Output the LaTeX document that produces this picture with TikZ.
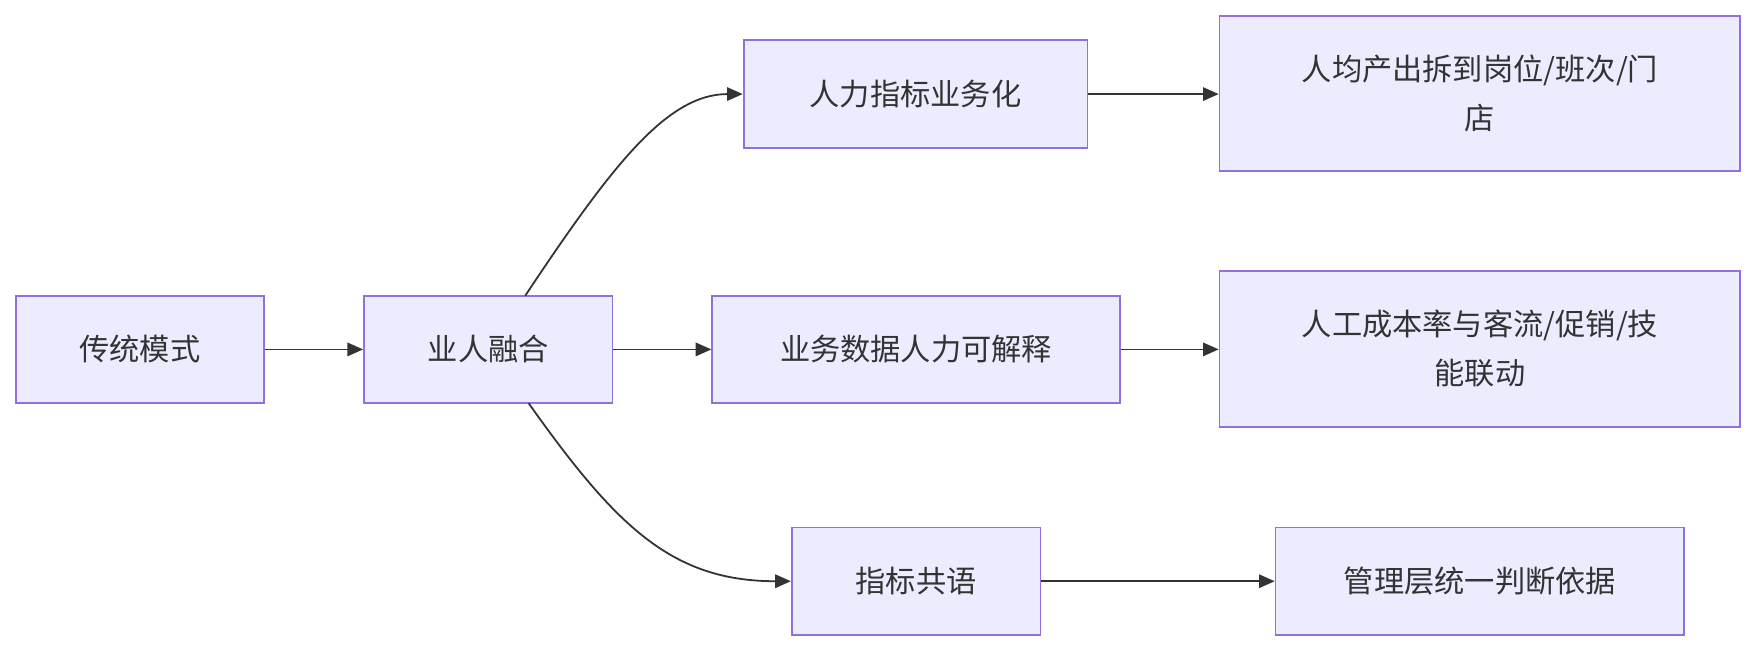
\documentclass[tikz,border=0pt]{standalone}
\usepackage{fontspec}
\setmainfont{Noto Sans CJK SC}
\usetikzlibrary{arrows.meta}
\definecolor{bfill}{HTML}{ECECFF}
\definecolor{bdraw}{HTML}{9370DB}
\definecolor{ln}{HTML}{333333}
\begin{document}
\begin{tikzpicture}[x=0.5pt,y=-0.5pt,
  box/.style={draw=bdraw,fill=bfill,line width=0.8pt,inner sep=0,align=center,font=\fontsize{13.5}{22}\selectfont,text=ln},
  arr/.style={draw=ln,line width=0.8pt,-{Triangle[length=7pt,width=6pt]}}]
\useasboundingbox (0,0) rectangle (1568,582);
\newcommand{\bx}[6]{\node[box,minimum width=#4*0.5pt-#2*0.5pt,minimum height=#5*0.5pt-#3*0.5pt] (#1) at ({(#2+#4)/2},{(#3+#5)/2}) {#6};}
\bx{a}{14}{264}{236}{360}{传统模式}
\bx{b}{325}{264}{547}{360}{业人融合}
\bx{c1}{664}{36}{971}{132}{人力指标业务化}
\bx{c2}{636}{264}{1000}{360}{业务数据人力可解释}
\bx{c3}{707}{471}{929}{567}{指标共语}
\bx{d1}{1089}{14}{1554}{153}{人均产出拆到岗位/班次/门\\店}
\bx{d2}{1089}{242}{1554}{381}{人工成本率与客流/促销/技\\能联动}
\bx{d3}{1139}{471}{1504}{567}{管理层统一判断依据}
\draw[arr] (a) -- (b);
\draw[arr] (b) -- (c2);
\draw[arr] (c1) -- (d1.west|-c1);
\draw[arr] (c2) -- (d2.west|-c2);
\draw[arr] (c3) -- (d3);
\coordinate (bt) at (469,264);
\coordinate (bb) at (472,360);
\draw[arr] (bt) .. controls (545,150) and (595,84) .. (c1.west);
\draw[arr] (bb) .. controls (550,470) and (600,519) .. (c3.west);
\end{tikzpicture}
\end{document}
